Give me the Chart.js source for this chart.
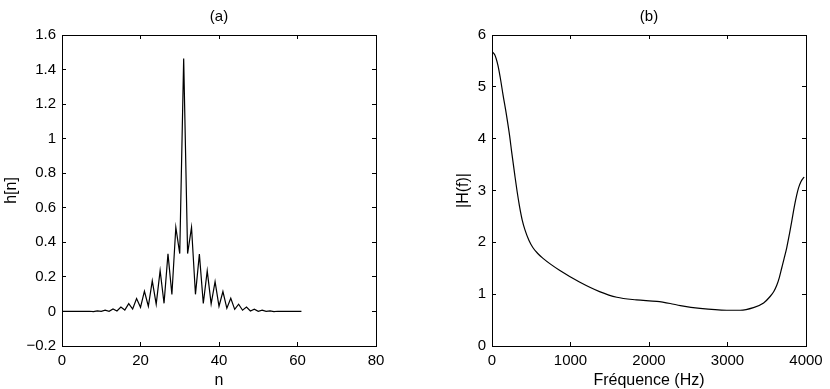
<!DOCTYPE html>
<html><head><meta charset="utf-8">
<script src="https://cdn.jsdelivr.net/npm/chart.js@4.4.1/dist/chart.umd.min.js"></script>
<style>
html,body{margin:0;padding:0;background:#fff;width:830px;height:389px;overflow:hidden}
canvas{position:absolute;top:0}
#ca{left:0}#cb{left:415px}
</style></head><body>
<canvas id="ca" width="415" height="389"></canvas>
<canvas id="cb" width="415" height="389"></canvas>
<script>
// ---- data: panel (a) ----
const nValues = [0,1,2,3,4,5,6,7,8,9,10,11,12,13,14,15,16,17,18,19,20,21,22,23,24,25,26,27,28,29,30,31,32,33,34,35,36,37,38,39,40,41,42,43,44,45,46,47,48,49,50,51,52,53,54,55,56,57,58,59,60,61];
const hValues = [0,0,0,0,0,0,0,0.001,-0.001,0.003,0.0,0.007,0.001,0.014,0.003,0.025,0.008,0.045,0.014,0.075,0.024,0.117,0.030,0.177,0.042,0.236,0.047,0.333,0.098,0.487,0.335,1.464,0.335,0.487,0.099,0.332,0.046,0.235,0.044,0.172,0.030,0.115,0.018,0.076,0.012,0.042,0.007,0.025,0.003,0.013,0.001,0.007,0.0,0.003,-0.001,0.001,0,0,0,0,0,0];
const aXTicks = [0,20,40,60,80];
const aYTicks = [-0.2,0,0.2,0.4,0.6,0.8,1,1.2,1.4,1.6];

// ---- data: panel (b) ----
const freqHz = [0,35,75,105,140,185,225,250,290,320,350,385,420,470,520,580,650,860,1120,1370,1590,1840,2100,2270,2400,2650,2990,3160,3330,3460,3540,3590,3630,3660,3690,3720,3755,3790,3820,3850,3880,3905,3935,3976];
const magH = [5.68,5.62,5.42,5.18,4.85,4.45,4.05,3.75,3.30,2.98,2.70,2.43,2.24,2.04,1.90,1.79,1.69,1.46,1.23,1.05,0.94,0.89,0.86,0.82,0.78,0.725,0.69,0.69,0.74,0.83,0.95,1.05,1.18,1.32,1.50,1.68,1.90,2.17,2.42,2.68,2.90,3.05,3.17,3.26];
const bXTicks = [0,1000,2000,3000,4000];
const bYTicks = [0,1,2,3,4,5,6];

const FONT = "'Liberation Sans', Arial, Helvetica, sans-serif";
Chart.defaults.color = '#000';
Chart.defaults.font.family = FONT;

function fmt(v){ return String(Math.round(v*1000)/1000).replace('-', '\u2212'); }

function axis(o){
  const horiz = (o.pos === 'top' || o.pos === 'bottom');
  return {
    type: 'linear', position: o.pos, min: o.min, max: o.max,
    afterBuildTicks: s => { s.ticks = o.ticks.map(v => ({value: v})); },
    afterFit: s => {
      if (horiz) { s.height = o.size; s.paddingLeft = 0; s.paddingRight = 0; }
      else { s.width = o.size; s.paddingTop = 0; s.paddingBottom = 0; }
    },
    border: {display: true, color: '#000', width: 1},
    grid: {drawOnChartArea: false, drawTicks: true, tickLength: -4, color: '#000', lineWidth: 1},
    ticks: {display: o.labels, padding: 10, color: '#000',
      font: {family: FONT, size: 15}, maxRotation: 0, autoSkip: false,
      callback: v => fmt(v)},
    title: o.title ? {display: true, text: o.title, color: '#000',
      font: {family: FONT, size: 16, lineHeight: 1}, padding: o.titlePad} : {display: false}
  };
}

function make(id, cfg){
  const pts = cfg.xs.map((x, i) => ({x: x, y: cfg.ys[i]}));
  return new Chart(document.getElementById(id), {
    type: 'line',
    data: {datasets: [{data: pts, borderColor: '#000', borderWidth: 1.2, pointRadius: 0,
      fill: false, tension: 0, cubicInterpolationMode: cfg.smooth ? 'monotone' : 'default'}]},
    options: {
      responsive: false, animation: false, devicePixelRatio: 1,
      layout: {padding: {left: 0, top: 0, right: cfg.padRight, bottom: 0}},
      plugins: {
        legend: {display: false}, tooltip: {enabled: false},
        title: {display: true, text: cfg.title, fullSize: false, color: '#000',
          font: {family: FONT, size: 15, weight: 'normal', lineHeight: 1.2},
          padding: {top: 8, bottom: 9}}
      },
      scales: {
        x: axis({pos: 'bottom', min: cfg.xmin, max: cfg.xmax, ticks: cfg.xt, labels: true, size: 43,
          title: cfg.xlabel, titlePad: {top: 0, bottom: 0}}),
        y: axis({pos: 'left', min: cfg.ymin, max: cfg.ymax, ticks: cfg.yt, labels: true, size: cfg.yw,
          title: cfg.ylabel, titlePad: {top: cfg.ytitlePad, bottom: 0}}),
        x2: axis({pos: 'top', min: cfg.xmin, max: cfg.xmax, ticks: cfg.xt, labels: false, size: 0}),
        y2: axis({pos: 'right', min: cfg.ymin, max: cfg.ymax, ticks: cfg.yt, labels: false, size: 0})
      }
    }
  });
}

make('ca', {xs: nValues, ys: hValues, smooth: false, title: '(a)', xlabel: 'n', ylabel: 'h[n]',
  xmin: 0, xmax: 80, ymin: -0.2, ymax: 1.6, xt: aXTicks, yt: aYTicks, yw: 62, ytitlePad: 4, padRight: 39});
make('cb', {xs: freqHz, ys: magH, smooth: true, title: '(b)', xlabel: 'Fr\u00e9quence (Hz)', ylabel: '|H(f)|',
  xmin: 0, xmax: 4000, ymin: 0, ymax: 6, xt: bXTicks, yt: bYTicks, yw: 77, ytitlePad: 41, padRight: 24});
</script>
</body></html>
